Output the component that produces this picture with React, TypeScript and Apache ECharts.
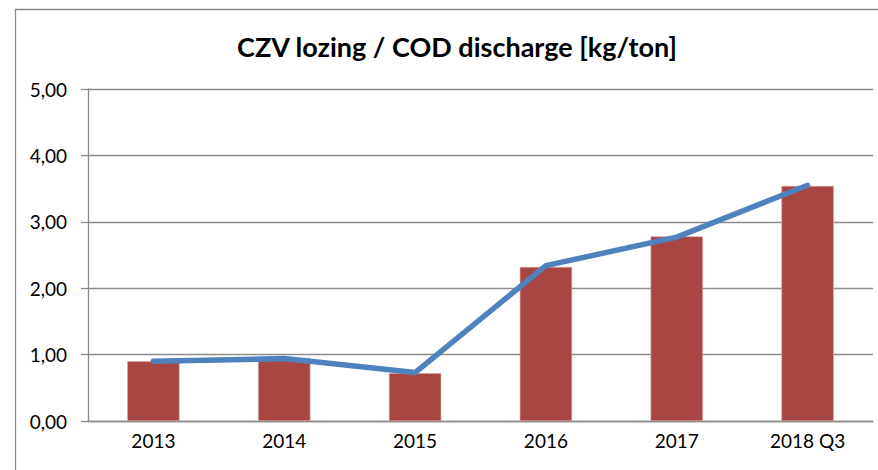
import React, { useEffect, useRef } from "react";
import * as echarts from "echarts";

const categories = ["2013", "2014", "2015", "2016", "2017", "2018 Q3"];
const barValues = [0.9, 0.95, 0.72, 2.32, 2.78, 3.54];
const lineValues = [0.9, 0.94, 0.73, 2.34, 2.77, 3.55];
const titleText = "CZV lozing / COD discharge [kg/ton]";

export default function App() {
  const ref = useRef<HTMLDivElement>(null);
  useEffect(() => {
    if (!ref.current) return;
    const chart = echarts.init(ref.current, null, { renderer: "svg" });
    const font = "Lato";
    chart.setOption({
      animation: false,
      backgroundColor: "#ffffff",
      graphic: [
        {
          type: "rect",
          shape: { x: 15.5, y: 9.5, width: 900, height: 500 },
          style: { fill: "none", stroke: "#8a8a8a", lineWidth: 1.3 },
          silent: true,
        },
        {
          type: "text",
          x: 457,
          y: 46,
          style: {
            text: titleText,
            fontFamily: font,
            fontWeight: "bold",
            fontSize: 27,
            fill: "#000",
            align: "center",
            verticalAlign: "middle",
          },
          silent: true,
        },
      ],
      grid: { left: 88, right: 5, top: 89, bottom: 49, containLabel: false },
      xAxis: {
        type: "category",
        data: categories,
        axisLine: { show: true, lineStyle: { color: "#8c8c8c", width: 1.3 } },
        axisTick: { show: false },
        axisLabel: { fontFamily: font, fontSize: 19, color: "#000", margin: 10 },
      },
      yAxis: {
        type: "value",
        min: 0,
        max: 5,
        interval: 1,
        axisLine: { show: true, lineStyle: { color: "#8c8c8c", width: 1.3 } },
        axisTick: { show: true, length: 7, lineStyle: { color: "#8c8c8c", width: 1.3 } },
        splitLine: { show: true, lineStyle: { color: "#8c8c8c", width: 1.3 } },
        axisLabel: {
          fontFamily: font,
          fontSize: 19,
          color: "#000",
          margin: 21,
          formatter: (v: number) => v.toFixed(2).replace(".", ","),
        },
      },
      series: [
        {
          type: "bar",
          data: barValues,
          barWidth: "40%",
          itemStyle: { color: "#a84644", borderColor: "#d9a6a5", borderWidth: 0.6 },
        },
        {
          type: "line",
          data: lineValues,
          symbol: "none",
          lineStyle: { color: "#4f81bd", width: 5.5, cap: "round", join: "round" },
        },
      ],
    });
    return () => chart.dispose();
  }, []);
  return (
    <div
      ref={ref}
      style={{ position: "fixed", left: 0, top: 0, width: 878, height: 470 }}
    />
  );
}
